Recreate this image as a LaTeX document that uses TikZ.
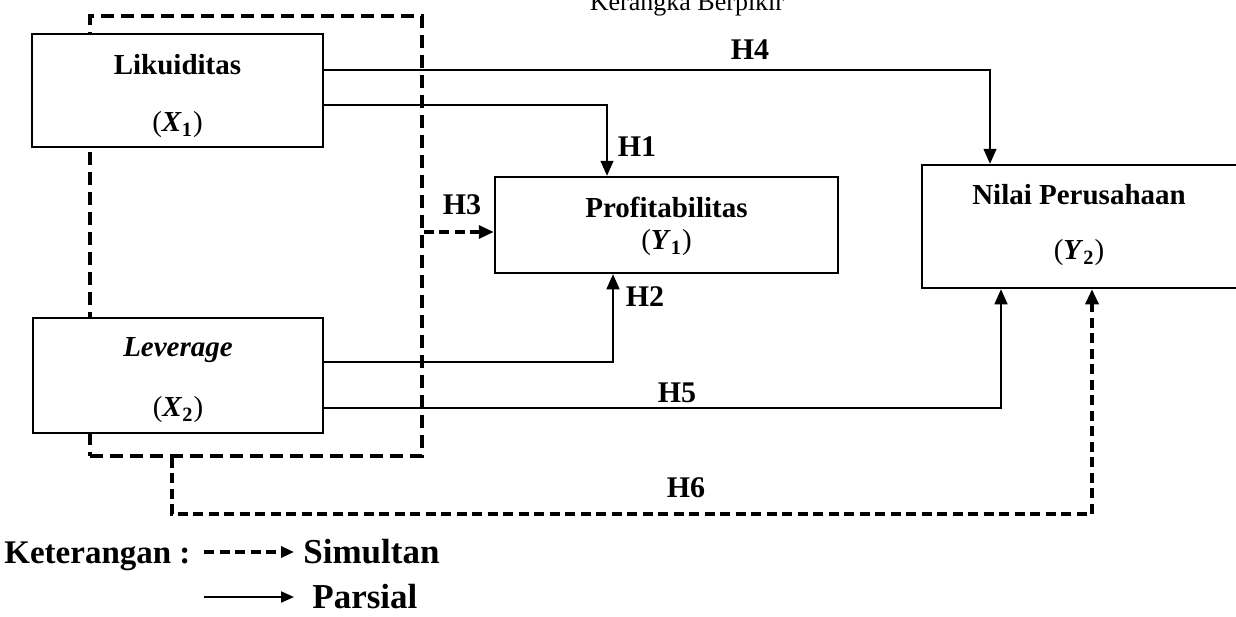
\documentclass[tikz,border=0pt]{standalone}
\usepackage{fontspec}
\setmainfont{Liberation Serif}
\usetikzlibrary{arrows.meta}
\newcommand\varlbl[2]{(\textbf{\textit{#1}}\textsubscript{\textbf{#2}})}
\begin{document}
\begin{tikzpicture}[x=0.5pt,y=-0.5pt,
  box/.style={draw, line width=1.25pt, fill=white, inner sep=0pt},
  grpbox/.style={draw, line width=1.6pt, dash pattern=on 6.5pt off 3.5pt, inner sep=0pt},
  tip/.style={-{Triangle[length=7.5pt,width=6.5pt]}},
  conn/.style={line width=0.7pt, tip},
  simul/.style={line width=1.6pt, dash pattern=on 5pt off 2.75pt, tip},
  btxt/.style={font=\fontsize{14.5}{17}\selectfont\bfseries, inner sep=0pt},
  vtxt/.style={font=\fontsize{14.5}{17}\selectfont, inner sep=0pt},
  lbl/.style={font=\fontsize{15}{18}\selectfont\bfseries, inner sep=0pt},
  legtxt/.style={font=\fontsize{16.5}{19}\selectfont\bfseries, inner sep=0pt, anchor=base west},
  legtxtb/.style={font=\fontsize{17.5}{20}\selectfont\bfseries, inner sep=0pt, anchor=base west},
  legtip/.style={-{Triangle[length=6.5pt,width=5.5pt]}}
]
\useasboundingbox (0,0) rectangle (1236,616);
\clip (0,0) rectangle (1236,616);

% title (cut at top, as in the reference)
\node[font=\fontsize{13}{15}\selectfont, anchor=base, inner sep=0pt] (title) at (687,10) {Kerangka Berpikir};

% simultaneous group frame
\node[grpbox, minimum width=166pt, minimum height=220pt] (grp) at (256,236) {};

% boxes
\node[box, minimum width=145.5pt, minimum height=56.5pt] (lik) at (177.5,90.5) {};
\node[box, minimum width=145pt, minimum height=57.5pt] (lev) at (178,375.5) {};
\node[box, minimum width=171.5pt, minimum height=48pt] (prof) at (666.5,225) {};
\node[box, minimum width=158pt, minimum height=61.5pt] (nilai) at (1080,226.5) {};

% box texts
\node[btxt] (likT) at (177.5,65) {Likuiditas};
\node[vtxt] (likV) at (177.5,125) {\varlbl{X}{1}};
\node[btxt] (levT) at (178,350) {\textit{Leverage}};
\node[vtxt] (levV) at (178,410) {\varlbl{X}{2}};
\node[btxt] (profT) at (666.5,207) {Profitabilitas};
\node[vtxt] (profV) at (666.5,243) {\varlbl{Y}{1}};
\node[btxt] (nilaiT) at (1079,195) {Nilai Perusahaan};
\node[vtxt] (nilaiV) at (1079,253) {\varlbl{Y}{2}};

% partial connectors
\draw[conn] (lik.east |- 0,70) -| (nilai.north -| 990,0);
\draw[conn] (lik.east |- 0,105) -| (prof.north -| 607,0);
\draw[conn] (lev.east |- 0,362) -| (prof.south -| 613,0);
\draw[conn] (lev.east |- 0,408) -| (nilai.south -| 1001,0);

% simultaneous connectors
\draw[simul] (grp.east |- 0,232) -- (prof.west |- 0,232);
\coordinate (h6c) at (172,514);
\draw[simul] (grp.south -| 172,0) -- (h6c) -| (nilai.south -| 1092,0);

% hypothesis labels
\node[lbl] (h4) at (750,50) {H4};
\node[lbl] (h1) at (637,147) {H1};
\node[lbl] (h3) at (462,205) {H3};
\node[lbl] (h2) at (645,297) {H2};
\node[lbl] (h5) at (677,393) {H5};
\node[lbl] (h6) at (686,488) {H6};

% legend
\node[legtxt] (ket) at (4,563) {Keterangan :};
\node[legtxtb] (sim) at (303,563) {Simultan};
\node[legtxtb] (par) at (312,608) {Parsial};
\coordinate (ls1) at (204,552);
\coordinate (ls2) at (294,552);
\coordinate (lp1) at (204,597);
\coordinate (lp2) at (294,597);
\draw[line width=1.6pt, dash pattern=on 5pt off 2.75pt, legtip] (ls1) -- (ls2);
\draw[line width=1pt, legtip] (lp1) -- (lp2);
\end{tikzpicture}
\end{document}
